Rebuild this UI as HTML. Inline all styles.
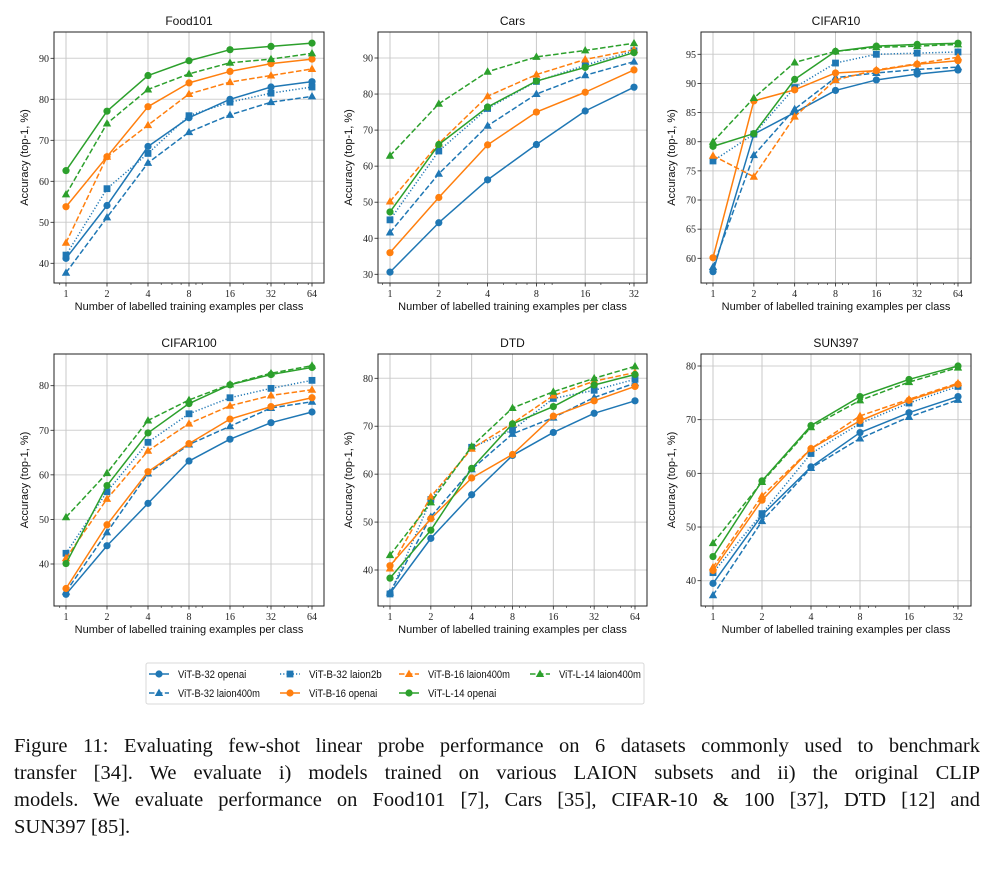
<!DOCTYPE html>
<html><head><meta charset="utf-8">
<style>
body{margin:0;background:#fff;width:990px;height:871px;overflow:hidden;position:relative}
svg{position:absolute;left:0;top:0}
#caption{position:absolute;left:14px;top:733px;width:966px;font-family:"Liberation Serif",serif;font-size:20.5px;line-height:27px;color:#111}
#caption .ln{text-align:justify;text-align-last:justify;white-space:nowrap;overflow:visible}
#caption .last{text-align:left;text-align-last:left}
</style></head><body>
<svg id="chart" width="990" height="871"></svg>
<div id="caption"><div class="ln">Figure 11: Evaluating few-shot linear probe performance on 6 datasets commonly used to benchmark</div><div class="ln">transfer [34]. We evaluate i) models trained on various LAION subsets and ii) the original CLIP</div><div class="ln">models. We evaluate performance on Food101 [7], Cars [35], CIFAR-10 &amp; 100 [37], DTD [12] and</div><div class="ln last">SUN397 [85].</div></div>
<script>
const X7 = ['1','2','4','8','16','32','64'];
const X6 = ['1','2','4','8','16','32'];
const SERIES_NAMES = ['ViT-B-32 openai','ViT-B-32 laion400m','ViT-B-32 laion2b','ViT-B-16 openai','ViT-B-16 laion400m','ViT-L-14 openai','ViT-L-14 laion400m'];

const FOOD_B32_OPENAI=[41.2,54.1,68.5,75.5,80,83,84.3];
const FOOD_B32_L400M=[37.7,51.2,64.5,72,76.2,79.3,80.7];
const FOOD_B32_L2B=[42,58.2,66.8,76,79.3,81.5,83];
const FOOD_B16_OPENAI=[53.8,66,78.2,84,86.8,88.7,89.8];
const FOOD_B16_L400M=[45,66,73.7,81.3,84.2,85.8,87.4];
const FOOD_L14_OPENAI=[62.6,77.1,85.8,89.4,92.1,92.9,93.7];
const FOOD_L14_L400M=[56.8,74.1,82.4,86.2,88.9,89.8,91.2];
const FOOD_YTICKS=[40,50,60,70,80,90];

const CARS_B32_OPENAI=[30.6,44.3,56.2,66,75.3,81.9];
const CARS_B32_L400M=[41.6,57.9,71.2,80,85.2,89];
const CARS_B32_L2B=[45.1,64.2,76,83.5,88,92];
const CARS_B16_OPENAI=[36,51.3,65.9,75,80.5,86.7];
const CARS_B16_L400M=[50.2,66.3,79.4,85.4,89.6,92.3];
const CARS_L14_OPENAI=[47.3,66,76.4,83.6,87.4,91.5];
const CARS_L14_L400M=[62.9,77.3,86.2,90.3,92.1,94.1];
const CARS_YTICKS=[30,40,50,60,70,80,90];

const C10_B32_OPENAI=[57.7,81.3,85,88.8,90.6,91.6,92.3];
const C10_B32_L400M=[58.5,77.7,85.6,91,91.8,92.4,92.8];
const C10_B32_L2B=[76.7,81.3,89.3,93.5,95,95.2,95.4];
const C10_B16_OPENAI=[60.1,87,88.9,91.8,92.2,93.3,93.9];
const C10_B16_L400M=[77.6,74,84.3,90.6,92.3,93.4,94.5];
const C10_L14_OPENAI=[79.2,81.4,90.7,95.5,96.4,96.7,96.9];
const C10_L14_L400M=[80,87.5,93.6,95.5,96.2,96.4,96.7];
const C10_YTICKS=[60,65,70,75,80,85,90,95];

const C100_B32_OPENAI=[33.2,44.1,53.6,63.1,68,71.7,74.1];
const C100_B32_L400M=[33.8,47.1,60.3,66.8,70.9,75,76.4];
const C100_B32_L2B=[42.4,56.2,67.3,73.7,77.3,79.4,81.2];
const C100_B16_OPENAI=[34.5,48.8,60.7,67,72.5,75.3,77.3];
const C100_B16_L400M=[41.3,54.6,65.4,71.5,75.5,77.8,79.1];
const C100_L14_OPENAI=[40.1,57.6,69.4,76,80.2,82.5,84.1];
const C100_L14_L400M=[50.5,60.4,72.2,76.8,80.3,82.8,84.5];
const C100_YTICKS=[40,50,60,70,80];

const DTD_B32_OPENAI=[35.1,46.6,55.7,63.9,68.7,72.7,75.3];
const DTD_B32_L400M=[35.3,51.1,61,68.4,71.8,76,79];
const DTD_B32_L2B=[35,54.7,65.6,69.2,75.8,77.5,79.8];
const DTD_B16_OPENAI=[40.9,50.7,59.2,64.1,72.1,75.3,78.3];
const DTD_B16_L400M=[40.3,55.3,65.3,70.6,76.4,79.4,81.2];
const DTD_L14_OPENAI=[38.3,48.3,61.2,70.5,74.1,78.6,80.8];
const DTD_L14_L400M=[43.1,54.1,65.8,73.8,77.2,80,82.5];
const DTD_YTICKS=[40,50,60,70,80];

const SUN_B32_OPENAI=[39.5,52.2,61.2,67.6,71.3,74.3];
const SUN_B32_L400M=[37.3,51.1,61,66.5,70.5,73.7];
const SUN_B32_L2B=[41.5,52.5,63.7,69.3,73.1,76.2];
const SUN_B16_OPENAI=[41.9,55,64.6,69.8,73.6,76.6];
const SUN_B16_L400M=[42.5,55.8,64.6,70.7,73.8,76.8];
const SUN_L14_OPENAI=[44.5,58.6,68.9,74.3,77.5,80];
const SUN_L14_L400M=[47,58.4,68.6,73.6,77,79.7];
const SUN_YTICKS=[40,50,60,70,80];

const NS='http://www.w3.org/2000/svg';
const svg=document.getElementById('chart');
const BLUE='#1f77b4',ORANGE='#ff7f0e',GREEN='#2ca02c';
const STYLES=[
 {c:BLUE,d:'',m:'o'},{c:BLUE,d:'5.5,2.4',m:'^'},{c:BLUE,d:'1.2,2',m:'s'},
 {c:ORANGE,d:'',m:'o'},{c:ORANGE,d:'5.5,2.4',m:'^'},
 {c:GREEN,d:'',m:'o'},{c:GREEN,d:'5.5,2.4',m:'^'}];
function el(tag,attrs,parent){const e=document.createElementNS(NS,tag);for(const k in attrs)e.setAttribute(k,attrs[k]);(parent||svg).appendChild(e);return e;}
function marker(g,type,x,y,c){
 let m;
 if(type==='o')m=el('circle',{cx:x,cy:y,r:3.6,fill:c},g);
 else if(type==='s')m=el('rect',{x:x-3.4,y:y-3.4,width:6.8,height:6.8,fill:c},g);
 else m=el('polygon',{points:`${x},${y-4.4} ${x+4.2},${y+3} ${x-4.2},${y+3}`,fill:c},g);
 return m;
}
const PANELS=[
 {title:'Food101',slug:'food101',box:[54,32,324,283],xf:66,xl:312,cats:X7,ya:[90,58.3,40,263.3],yt:FOOD_YTICKS,
  s:[FOOD_B32_OPENAI,FOOD_B32_L400M,FOOD_B32_L2B,FOOD_B16_OPENAI,FOOD_B16_L400M,FOOD_L14_OPENAI,FOOD_L14_L400M]},
 {title:'Cars',slug:'cars',box:[378,32,647,283],xf:390,xl:634,cats:X6,ya:[90,58,30,274.3],yt:CARS_YTICKS,
  s:[CARS_B32_OPENAI,CARS_B32_L400M,CARS_B32_L2B,CARS_B16_OPENAI,CARS_B16_L400M,CARS_L14_OPENAI,CARS_L14_L400M]},
 {title:'CIFAR10',slug:'cifar10',box:[701,32,971,283],xf:713,xl:958,cats:X7,ya:[95,54.3,60,258.3],yt:C10_YTICKS,
  s:[C10_B32_OPENAI,C10_B32_L400M,C10_B32_L2B,C10_B16_OPENAI,C10_B16_L400M,C10_L14_OPENAI,C10_L14_L400M]},
 {title:'CIFAR100',slug:'cifar100',box:[54,354,324,606],xf:66,xl:312,cats:X7,ya:[80,385.7,40,564],yt:C100_YTICKS,
  s:[C100_B32_OPENAI,C100_B32_L400M,C100_B32_L2B,C100_B16_OPENAI,C100_B16_L400M,C100_L14_OPENAI,C100_L14_L400M]},
 {title:'DTD',slug:'dtd',box:[378,354,647,606],xf:390,xl:635,cats:X7,ya:[80,378.3,40,570],yt:DTD_YTICKS,
  s:[DTD_B32_OPENAI,DTD_B32_L400M,DTD_B32_L2B,DTD_B16_OPENAI,DTD_B16_L400M,DTD_L14_OPENAI,DTD_L14_L400M]},
 {title:'SUN397',slug:'sun397',box:[701,354,971,606],xf:713,xl:958,cats:X6,ya:[80,366,40,580.7],yt:SUN_YTICKS,
  s:[SUN_B32_OPENAI,SUN_B32_L400M,SUN_B32_L2B,SUN_B16_OPENAI,SUN_B16_L400M,SUN_L14_OPENAI,SUN_L14_L400M]}
];
PANELS.forEach(p=>{
 const [x0,y0,x1,y1]=p.box;
 const n=p.cats.length, step=(p.xl-p.xf)/(n-1);
 const xs=i=>p.xf+i*step;
 const xlog=v=>p.xf+Math.log2(v)*step;
 const ys=v=>p.ya[1]+(v-p.ya[0])*(p.ya[3]-p.ya[1])/(p.ya[2]-p.ya[0]);
 const g=el('g',{});
 
 
 const t=el('text',{x:(x0+x1)/2,y:y0-7,'text-anchor':'middle','font-family':'Liberation Sans, sans-serif','font-size':12,fill:'#111'},g);
 t.textContent=p.title;
 
 
 p.yt.forEach(v=>{
  const y=ys(v);
  el('line',{x1:x0,x2:x1,y1:y,y2:y,stroke:'#d0d0d0','stroke-width':1},g);
  el('line',{x1:x0-3.5,x2:x0,y1:y,y2:y,stroke:'#222','stroke-width':0.8},g);
  const tl=el('text',{x:x0-5,y:y+3.5,'text-anchor':'end','font-family':'Liberation Serif, serif','font-size':10,fill:'#222'},g);
  tl.textContent=v;
  
  
 });
 p.cats.forEach((c,i)=>{
  const x=xs(i);
  el('line',{x1:x,x2:x,y1:y0,y2:y1,stroke:'#c8c8c8','stroke-width':1},g);
  el('line',{x1:x,x2:x,y1:y1,y2:y1+3.5,stroke:'#222','stroke-width':0.8},g);
  const tl=el('text',{x:x,y:y1+14,'text-anchor':'middle','font-family':'Liberation Serif, serif','font-size':10,fill:'#222'},g);
  tl.textContent=c;
  
  
 });
 [0.8,0.9,3,5,6,7,9,10,20,30,40,50,60].forEach(v=>{
  const x=xlog(v); if(x<=x0||x>=x1)return;
  el('line',{x1:x,x2:x,y1:y1,y2:y1+2,stroke:'#222','stroke-width':0.6},g);
 });
 p.s.forEach((arr,k)=>{
  const st=STYLES[k];
  const sg=el('g',{},g);
  
  
  const pts=arr.map((v,i)=>xs(i)+','+ys(v)).join(' ');
  const a={points:pts,fill:'none',stroke:st.c,'stroke-width':1.5,'stroke-linejoin':'round'};
  if(st.d)a['stroke-dasharray']=st.d;
  el('polyline',a,sg);
  arr.forEach((v,i)=>{const m=marker(sg,st.m,xs(i),ys(v),st.c);
   
   });
 });
 el('rect',{x:x0,y:y0,width:x1-x0,height:y1-y0,fill:'none',stroke:'#222','stroke-width':1},g);
 const xl=el('text',{x:(x0+x1)/2,y:y1+27,'text-anchor':'middle','font-family':'Liberation Sans, sans-serif','font-size':11,fill:'#111'},g);
 xl.textContent='Number of labelled training examples per class';
 
 
 const cy=(y0+y1)/2, cx=x0-26;
 const yl=el('text',{x:cx,y:cy,'text-anchor':'middle','font-family':'Liberation Sans, sans-serif','font-size':11,fill:'#111',transform:`rotate(-90 ${cx} ${cy})`},g);
 yl.textContent='Accuracy (top-1, %)';
 
 
});
const lg=el('g',{});


el('rect',{x:146,y:663,width:498,height:41,rx:2,fill:'#fff',stroke:'#d8d8d8','stroke-width':1},lg);
const LEG_POS=[[149,674],[149,693],[280,674],[280,693],[399,674],[399,693],[530,674]];
const LEG_ORDER=[0,1,2,3,4,5,6];
LEG_ORDER.forEach((k,j)=>{
 const [hx,hy]=LEG_POS[j]; const st=STYLES[k];
 const e=el('g',{},lg);
 
 
 const a={x1:hx,x2:hx+20,y1:hy,y2:hy,stroke:st.c,'stroke-width':1.5};
 if(st.d)a['stroke-dasharray']=st.d;
 el('line',a,e);
 marker(e,st.m,hx+10,hy,st.c);
 const name=SERIES_NAMES[k];
 const tx=el('text',{x:hx+29,y:hy+4,'font-family':'Liberation Sans, sans-serif','font-size':11,fill:'#111',textLength:(name.length*4.55).toFixed(1),lengthAdjust:'spacingAndGlyphs'},e);
 tx.textContent=name;
});
</script>
</body></html>
